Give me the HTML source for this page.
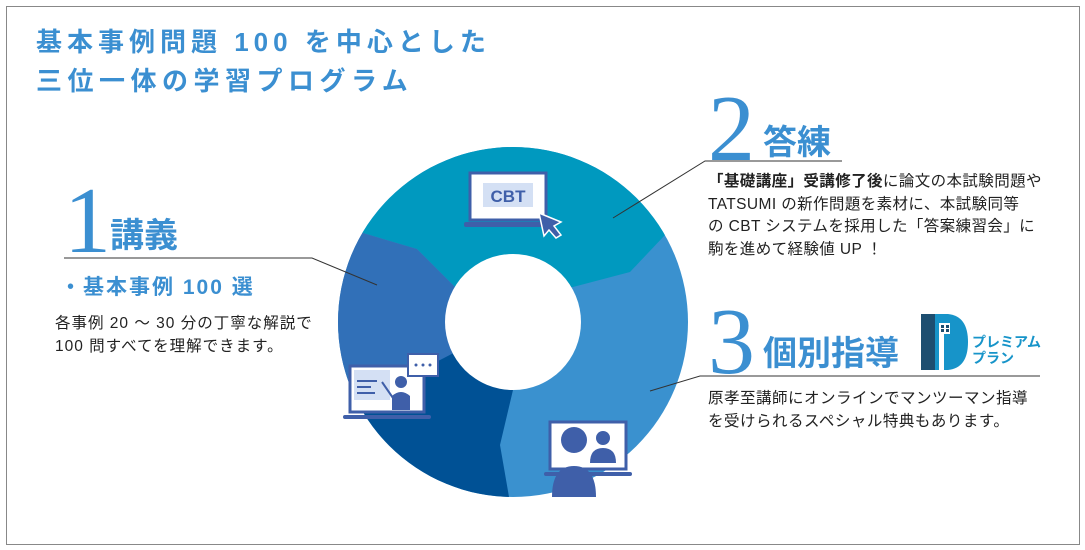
<!DOCTYPE html>
<html><head><meta charset="utf-8"><style>
body{margin:0;width:1085px;height:550px;background:#fff;position:relative;overflow:hidden;font-family:"Liberation Sans","Noto Sans CJK JP",sans-serif;}
.a{position:absolute;white-space:nowrap;line-height:1;}
.t{color:#3b8fd1;font-weight:bold;font-size:26px;letter-spacing:5px;}
.dg{color:#3b8fd1;font-family:"Liberation Serif",serif;font-size:94px;}
.h{color:#3b8fd1;font-weight:bold;font-size:34px;}
.b{color:#222;font-size:15.5px;line-height:22.7px;}
</style></head><body>
<div class="a" style="left:6px;top:6px;width:1072px;height:537px;border:1px solid #888;"></div>
<div class="a t" style="left:36px;top:29px;">基本事例問題 100 を中心とした</div>
<div class="a t" style="left:36px;top:68px;letter-spacing:5.5px;">三位一体の学習プログラム</div>

<svg class="a" style="left:0;top:0" width="1085" height="550">
<defs><clipPath id="c"><circle cx="513" cy="322" r="175"/></clipPath></defs>
<g clip-path="url(#c)">
<rect x="330" y="140" width="370" height="370" fill="#3a91cf"/>
<polygon points="300,100 720,100 720,210 665,235 630,272 573,287 455,287 417,249 363,233 300,220" fill="#0099bf"/>
<polygon points="300,220 363,233 417,249 455,287 513,322 440,360 350,400 300,420" fill="#3170b8"/>
<polygon points="300,420 350,400 440,360 513,322 513,390 500,445 513,520 300,520" fill="#005195"/>
</g>
<circle cx="513" cy="322" r="68" fill="#fff"/>
<polyline points="64,258 312,258 377,285" fill="none" stroke="#333" stroke-width="1"/>
<polyline points="842,161 705,161 613,218" fill="none" stroke="#333" stroke-width="1"/>
<polyline points="1040,376 700,376 650,391" fill="none" stroke="#333" stroke-width="1"/>
<rect x="470" y="173" width="76" height="47" fill="#fff" stroke="#3f5fa9" stroke-width="3"/>
<rect x="483" y="183" width="50" height="24" fill="#d4e0f4"/>
<text x="508" y="202" font-family="Liberation Sans" font-weight="bold" font-size="17" fill="#3f5fa9" text-anchor="middle">CBT</text>
<rect x="464" y="222" width="88" height="5" rx="2" fill="#3f5fa9"/>
<polygon points="539,213 561,222 554,226 561,235 556,238 549,230 544,236" fill="#3f5fa9" stroke="#fff" stroke-width="1.5"/>
<rect x="350" y="366" width="74" height="46" fill="#fff" stroke="#3f5fa9" stroke-width="3"/>
<rect x="354" y="370" width="36" height="30" fill="#d4e0f4"/>
<rect x="357" y="380" width="20" height="2" fill="#3f5fa9"/><rect x="357" y="386" width="14" height="2" fill="#3f5fa9"/><rect x="357" y="392" width="18" height="2" fill="#3f5fa9"/>
<circle cx="401" cy="382" r="6" fill="#3f5fa9"/>
<path d="M392 410 L392 396 Q401 388 410 396 L410 410Z" fill="#3f5fa9"/>
<line x1="382" y1="382" x2="393" y2="398" stroke="#3f5fa9" stroke-width="2"/>
<rect x="408" y="354" width="30" height="22" fill="#fff" stroke="#3f5fa9" stroke-width="2"/>
<circle cx="416" cy="365" r="1.5" fill="#3f5fa9"/><circle cx="423" cy="365" r="1.5" fill="#3f5fa9"/><circle cx="430" cy="365" r="1.5" fill="#3f5fa9"/>
<rect x="343" y="415" width="88" height="4" rx="2" fill="#3f5fa9"/>
<rect x="550" y="422" width="76" height="47" fill="#fff" stroke="#3f5fa9" stroke-width="3"/>
<circle cx="574" cy="440" r="13" fill="#3f5fa9"/>
<circle cx="603" cy="438" r="7" fill="#3f5fa9"/>
<path d="M590 463 Q590 448 603 448 Q616 448 616 463Z" fill="#3f5fa9"/>
<rect x="544" y="472" width="88" height="4" rx="2" fill="#3f5fa9"/>
<path d="M552 497 Q552 466 574 466 Q596 466 596 497Z" fill="#3f5fa9"/>
<polygon points="921,314 935,314 935,370 921,370" fill="#1d4e70"/>
<path d="M935 314 L948 314 Q968 316 968 342 Q968 368 948 370 L935 370Z" fill="#1794c9"/>
<rect x="939" y="323" width="11" height="11" fill="#fff"/>
<rect x="941" y="325" width="3" height="3" fill="#1d4e70"/><rect x="946" y="325" width="3" height="3" fill="#1d4e70"/><rect x="941" y="329" width="3" height="3" fill="#1d4e70"/><rect x="946" y="329" width="3" height="3" fill="#1d4e70"/>
<rect x="939" y="334" width="5" height="36" fill="#fff"/>
</svg>

<div class="a dg" style="left:64px;top:174px;">1</div>
<div class="a h" style="left:110px;top:219px;">講義</div>
<div class="a" style="left:60px;top:277px;color:#3b8fd1;font-weight:bold;font-size:21px;letter-spacing:2px;">・基本事例 100 選</div>
<div class="a b" style="left:55px;top:313px;letter-spacing:1px;">各事例 20 ～ 30 分の丁寧な解説で<br>100 問すべてを理解できます。</div>

<div class="a dg" style="left:708px;top:82px;">2</div>
<div class="a h" style="left:763px;top:126px;">答練</div>
<div class="a b" style="left:708px;top:171px;letter-spacing:0.4px;"><b>「基礎講座」受講修了後</b>に論文の本試験問題や<br>TATSUMI の新作問題を素材に、本試験同等<br>の CBT システムを採用した「答案練習会」に<br>駒を進めて経験値 UP ！</div>

<div class="a dg" style="left:708px;top:295px;">3</div>
<div class="a h" style="left:763px;top:337px;">個別指導</div>
<div class="a" style="left:972px;top:334px;color:#1794c9;font-weight:bold;font-size:14px;line-height:16px;">プレミアム<br>プラン</div>
<div class="a b" style="left:708px;top:388px;letter-spacing:0.5px;">原孝至講師にオンラインでマンツーマン指導<br>を受けられるスペシャル特典もあります。</div>
</body></html>
